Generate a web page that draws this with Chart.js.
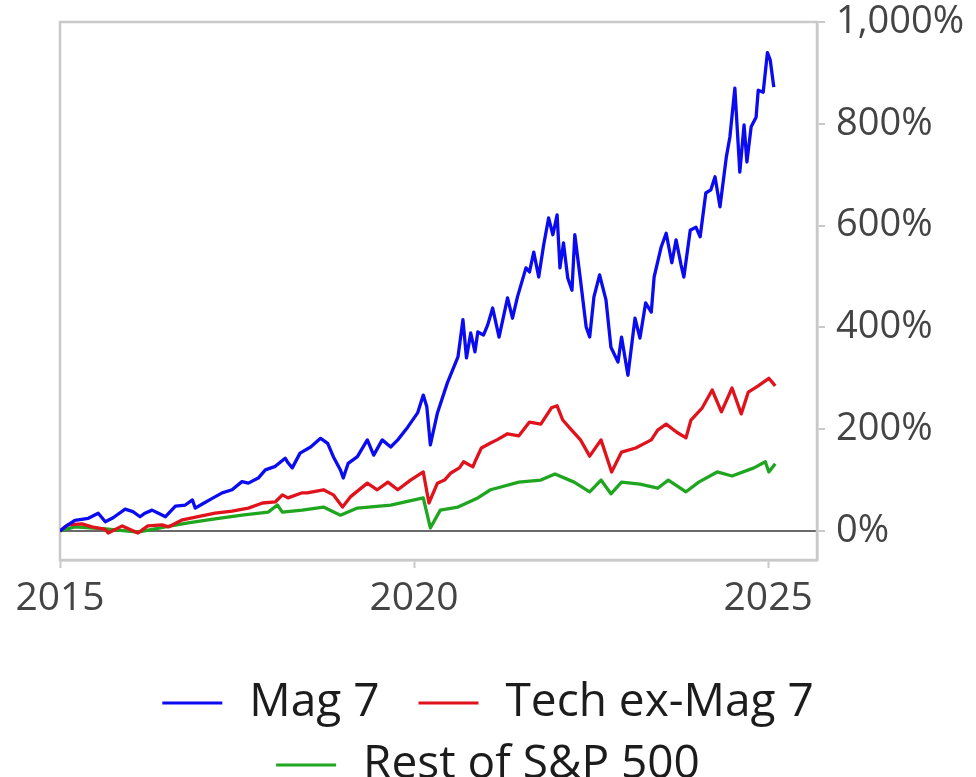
<!DOCTYPE html>
<html>
<head>
<meta charset="utf-8">
<script src="https://cdn.jsdelivr.net/npm/chart.js@4"></script>
<style>
  html, body { margin: 0; padding: 0; background: #ffffff; }
  #wrap { width: 976px; height: 777px; }
</style>
</head>
<body>
<div id="wrap"><canvas id="chart" width="976" height="777"></canvas></div>
<script>
// Cumulative return since 2015 (%), by decimal year
const mag7Dates = [2015.00, 2015.07, 2015.21, 2015.40, 2015.54, 2015.64, 2015.75, 2015.92, 2016.03, 2016.13,
  2016.20, 2016.30, 2016.39, 2016.49, 2016.63, 2016.77, 2016.87, 2016.91, 2017.01, 2017.15,
  2017.29, 2017.43, 2017.57, 2017.66, 2017.80, 2017.90, 2018.04, 2018.18, 2018.22, 2018.28,
  2018.39, 2018.54, 2018.68, 2018.78, 2018.86, 2018.96, 2019.00, 2019.07, 2019.20, 2019.34,
  2019.43, 2019.55, 2019.67, 2019.77, 2019.91, 2020.05, 2020.13, 2020.18, 2020.23, 2020.33,
  2020.47, 2020.62, 2020.69, 2020.74, 2020.80, 2020.86, 2020.90, 2020.98, 2021.04, 2021.11,
  2021.20, 2021.32, 2021.39, 2021.46, 2021.58, 2021.63, 2021.69, 2021.76, 2021.83, 2021.90,
  2021.96, 2022.02, 2022.06, 2022.11, 2022.17, 2022.23, 2022.27, 2022.35, 2022.43, 2022.48,
  2022.54, 2022.62, 2022.71, 2022.78, 2022.88, 2022.93, 2023.02, 2023.12, 2023.19, 2023.27,
  2023.35, 2023.39, 2023.49, 2023.56, 2023.64, 2023.70, 2023.77, 2023.81, 2023.90, 2023.98,
  2024.04, 2024.12, 2024.19, 2024.25, 2024.32, 2024.41, 2024.46, 2024.53, 2024.60, 2024.66,
  2024.70, 2024.76, 2024.83, 2024.86, 2024.93, 2024.99, 2025.03, 2025.08];
const mag7Values = [0, 8, 21, 25, 35, 18, 26, 43, 38, 28,
  35, 41, 35, 28, 49, 51, 61, 45, 53, 64,
  75, 81, 97, 94, 104, 120, 127, 143, 134, 124,
  153, 165, 182, 172, 146, 120, 104, 133, 146, 179,
  149, 179, 165, 179, 204, 232, 267, 244, 169, 232,
  291, 342, 415, 340, 389, 352, 391, 385, 405, 438,
  381, 458, 418, 460, 517, 509, 548, 499, 562, 615,
  582, 621, 517, 566, 497, 473, 582, 493, 401, 381,
  460, 503, 454, 361, 332, 381, 306, 418, 379, 448,
  430, 499, 558, 585, 527, 572, 523, 499, 591, 597,
  578, 664, 670, 696, 637, 735, 774, 870, 705, 798,
  725, 794, 813, 866, 862, 940, 925, 872];

const techDates = [2015.00, 2015.11, 2015.31, 2015.45, 2015.64, 2015.68, 2015.88, 2016.10, 2016.24, 2016.44,
  2016.53, 2016.73, 2016.95, 2017.19, 2017.43, 2017.66, 2017.86, 2018.04, 2018.14, 2018.22,
  2018.42, 2018.49, 2018.72, 2018.86, 2018.99, 2019.10, 2019.34, 2019.48, 2019.63, 2019.77,
  2019.95, 2020.13, 2020.21, 2020.33, 2020.43, 2020.52, 2020.64, 2020.70, 2020.83, 2020.86,
  2020.95, 2021.08, 2021.17, 2021.32, 2021.48, 2021.63, 2021.79, 2021.94, 2022.02, 2022.10,
  2022.20, 2022.35, 2022.48, 2022.64, 2022.79, 2022.93, 2023.13, 2023.35, 2023.44, 2023.56,
  2023.71, 2023.84, 2023.91, 2024.07, 2024.21, 2024.34, 2024.49, 2024.62, 2024.72, 2024.86,
  2025.01, 2025.10];
const techValues = [0, 12, 14, 8, 3, -4, 10, -4, 10, 12,
  8, 22, 28, 35, 39, 45, 55, 57, 71, 65,
  75, 75, 81, 71, 47, 67, 94, 81, 96, 81,
  100, 116, 55, 94, 100, 114, 124, 136, 126, 136,
  163, 173, 179, 191, 187, 214, 210, 242, 246, 218,
  202, 179, 147, 179, 116, 155, 163, 179, 198, 210,
  194, 183, 218, 242, 277, 234, 281, 230, 273, 285,
  300, 285];

const restDates = [2015.00, 2015.21, 2015.64, 2016.10, 2016.49, 2016.81, 2017.19, 2017.57, 2017.94, 2018.07,
  2018.14, 2018.42, 2018.72, 2018.96, 2019.20, 2019.67, 2020.13, 2020.23, 2020.37, 2020.62,
  2020.90, 2021.08, 2021.48, 2021.79, 2021.99, 2022.26, 2022.48, 2022.64, 2022.78, 2022.93,
  2023.19, 2023.44, 2023.59, 2023.84, 2024.02, 2024.28, 2024.49, 2024.80, 2024.96, 2025.01,
  2025.10];
const restValues = [0, 8, 4, -2, 8, 16, 24, 31, 37, 51,
  37, 41, 47, 31, 45, 51, 65, 6, 41, 47,
  65, 81, 96, 100, 112, 96, 77, 100, 73, 96,
  92, 84, 100, 77, 96, 116, 108, 124, 136, 116,
  132];

const seriesNames = ['Mag 7', 'Tech ex-Mag 7', 'Rest of S&P 500'];
const seriesColors = ['#0b0bf2', '#e0121c', '#1fa51f'];
const xTickYears = [2015, 2020, 2025];
const yTickValues = [0, 200, 400, 600, 800, 1000];

const FRAME = '#c9c9c9';
const TICK_TEXT = '#444444';
const SWATCH_LEAD = 23;

function toPoints(dates, values) {
  return dates.map((d, i) => ({ x: d, y: values[i] }));
}

// Short line swatches for the legend, with room on the left so items sit apart
function swatch(color) {
  const c = document.createElement('canvas');
  c.width = SWATCH_LEAD + 64; c.height = 4;
  const g = c.getContext('2d');
  g.fillStyle = color;
  g.fillRect(SWATCH_LEAD, 0.5, 60, 3);
  return c;
}
const swatches = seriesColors.map(swatch);

// Light grey box around the plotting area
const framePlugin = {
  id: 'frame',
  beforeDatasetsDraw(chart) {
    const a = chart.chartArea;
    const ctx = chart.ctx;
    ctx.save();
    ctx.strokeStyle = FRAME;
    ctx.lineWidth = 2.5;
    ctx.strokeRect(a.left, a.top, a.right - a.left, a.bottom - a.top);
    ctx.restore();
  }
};

// Re-centre the legend rows: the swatch canvases carry a blank lead-in on the left
const legendCentre = {
  id: 'legendCentre',
  afterLayout(chart) {
    const l = chart.legend;
    if (!l) return;
    l.left -= SWATCH_LEAD / 2;
    l.right -= SWATCH_LEAD / 2;
  }
};

Chart.defaults.font.family = "'Open Sans', 'Noto Sans', sans-serif";

function makeDataset(i, dates, values) {
  return {
    label: seriesNames[i],
    data: toPoints(dates, values),
    borderColor: seriesColors[i],
    backgroundColor: seriesColors[i],
    xAxisID: 'x',
    yAxisID: 'y'
  };
}

new Chart(document.getElementById('chart'), {
  type: 'line',
  data: {
    datasets: [
      makeDataset(0, mag7Dates, mag7Values),
      makeDataset(1, techDates, techValues),
      makeDataset(2, restDates, restValues)
    ]
  },
  options: {
    responsive: false,
    animation: false,
    layout: { padding: { top: 22, right: 0, bottom: 0, left: 0 } },
    elements: {
      line: { borderWidth: 3.3, tension: 0, borderJoinStyle: 'round' },
      point: { radius: 0, hoverRadius: 0 }
    },
    plugins: {
      tooltip: { enabled: false },
      legend: {
        position: 'bottom',
        maxHeight: 113,
        labels: {
          color: '#1c1c1c',
          font: { size: 46 },
          padding: 16,
          usePointStyle: true,
          pointStyleWidth: SWATCH_LEAD + 64,
          generateLabels(chart) {
            const items = Chart.defaults.plugins.legend.labels.generateLabels(chart);
            items.forEach((it) => { it.pointStyle = swatches[it.datasetIndex]; });
            return items;
          }
        }
      }
    },
    scales: {
      x: {
        type: 'linear',
        min: 2015,
        max: 2025.69,
        afterBuildTicks(scale) { scale.ticks = xTickYears.map((v) => ({ value: v })); },
        afterFit(scale) { scale.height = 104; },
        ticks: {
          color: TICK_TEXT,
          font: { size: 39 },
          padding: 7,
          maxRotation: 0,
          autoSkip: false,
          callback: (v) => String(v)
        },
        grid: { drawOnChartArea: false, drawTicks: true, tickLength: 8, tickColor: FRAME, tickWidth: 2 },
        border: { display: true, color: FRAME, width: 2.5 }
      },
      yLeft: {
        position: 'left',
        display: true,
        afterFit(scale) { scale.width = 60; },
        ticks: { display: false },
        grid: { display: false, drawTicks: false },
        border: { display: false }
      },
      y: {
        position: 'right',
        min: -57,
        max: 1000,
        afterBuildTicks(scale) { scale.ticks = yTickValues.map((v) => ({ value: v })); },
        afterFit(scale) { scale.width = 159; },
        ticks: {
          color: TICK_TEXT,
          font: { size: 38, lineHeight: 0.5 },
          padding: 11,
          autoSkip: false,
          callback: (v) => v.toLocaleString('en-US') + '%'
        },
        grid: {
          drawOnChartArea: true,
          drawTicks: true,
          tickLength: 8,
          tickColor: FRAME,
          tickWidth: 2,
          color: (ctx) => (ctx.tick && ctx.tick.value === 0 ? '#6a6a6a' : 'rgba(0,0,0,0)'),
          lineWidth: 2
        },
        border: { display: true, color: FRAME, width: 2.5 }
      }
    }
  },
  plugins: [framePlugin, legendCentre]
});
</script>
</body>
</html>
